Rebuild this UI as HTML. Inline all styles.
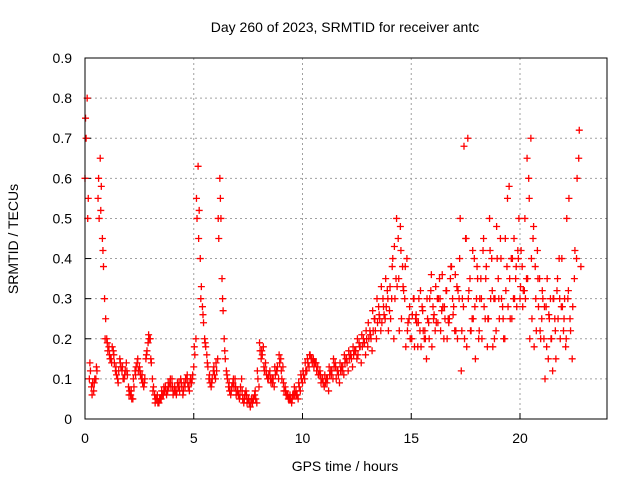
<!DOCTYPE html>
<html><head><meta charset="utf-8"><style>
html,body{margin:0;padding:0;background:#fff}
svg text{font-family:"Liberation Sans",sans-serif;font-size:14px;fill:#000}
</style></head><body>
<svg id="chart" width="640" height="480" viewBox="0 0 640 480" xmlns="http://www.w3.org/2000/svg">
<rect width="640" height="480" fill="#fff"/>
<text x="345" y="32" text-anchor="middle">Day 260 of 2023, SRMTID for receiver antc</text>
<g id="grid"></g>
<g id="ticks"></g>
<g id="marks"></g>
<rect x="85" y="58" width="522" height="361" fill="none" stroke="#000" stroke-width="1"/>
<text x="345" y="471" text-anchor="middle">GPS time / hours</text>
<text transform="translate(18,239) rotate(-90)" text-anchor="middle">SRMTID / TECUs</text>
</svg>
<script>
const xTicks=[0,5,10,15,20];
const yTicks=[0,0.1,0.2,0.3,0.4,0.5,0.6,0.7,0.8,0.9];
const yTickLabels=["0","0.1","0.2","0.3","0.4","0.5","0.6","0.7","0.8","0.9"];
const startTime=0, timeStep=0.1;
const mainValues=[0.6,0.8,0.1,0.08,0.07,0.1,0.55,0.65,0.45,0.3,0.2,0.18,0.15,0.17,0.12,0.1,0.15,0.12,0.1,0.14,0.08,0.06,0.05,0.12,0.14,0.13,0.1,0.08,0.15,0.19,0.2,0.1,0.06,0.05,0.04,0.05,0.06,0.08,0.07,0.09,0.1,0.07,0.06,0.08,0.1,0.06,0.08,0.11,0.07,0.09,0.13,0.2,0.63,0.4,0.28,0.2,0.16,0.1,0.08,0.12,0.1,0.15,0.6,0.35,0.2,0.12,0.08,0.06,0.09,0.1,0.07,0.05,0.1,0.04,0.07,0.05,0.03,0.04,0.06,0.04,0.08,0.15,0.18,0.14,0.1,0.12,0.1,0.08,0.12,0.1,0.15,0.13,0.08,0.06,0.05,0.04,0.06,0.07,0.05,0.07,0.09,0.1,0.12,0.13,0.15,0.15,0.14,0.13,0.12,0.1,0.08,0.1,0.07,0.12,0.1,0.14,0.12,0.09,0.13,0.11,0.15,0.12,0.16,0.13,0.17,0.15,0.19,0.14,0.2,0.16,0.18,0.22,0.17,0.25,0.2,0.28,0.22,0.3,0.25,0.32,0.27,0.3,0.2,0.35,0.45,0.48,0.38,0.3,0.4,0.25,0.2,0.3,0.25,0.18,0.22,0.28,0.2,0.15,0.24,0.32,0.28,0.22,0.3,0.35,0.27,0.2,0.32,0.25,0.35,0.3,0.22,0.33,0.3,0.12,0.28,0.45,0.7,0.35,0.25,0.4,0.3,0.2,0.35,0.42,0.25,0.18,0.5,0.4,0.3,0.22,0.35,0.45,0.28,0.2,0.38,0.58,0.4,0.3,0.35,0.42,0.3,0.38,0.32,0.35,0.6,0.7,0.45,0.38,0.42,0.35,0.25,0.2,0.28,0.15,0.3,0.12,0.25,0.32,0.4,0.28,0.22,0.18,0.3,0.25,0.15,0.35,0.4,0.65,0.38];
const secondStart=0.05;
const secondValues=[0.7,0.55,0.12,0.09,0.1,0.12,0.5,0.58,0.38,0.25,0.17,0.15,0.18,0.14,0.11,0.12,0.13,0.1,0.12,0.11,0.07,0.05,0.08,0.13,0.12,0.11,0.09,0.1,0.17,0.2,0.14,0.08,0.05,0.04,0.05,0.06,0.07,0.06,0.08,0.08,0.06,0.07,0.09,0.07,0.08,0.09,0.1,0.08,0.1,0.11,0.16,0.5,0.52,0.33,0.24,0.18,0.13,0.09,0.1,0.11,0.12,0.45,0.5,0.27,0.15,0.1,0.07,0.08,0.08,0.06,0.06,0.08,0.05,0.06,0.04,0.04,0.05,0.05,0.05,0.1,0.17,0.16,0.12,0.11,0.11,0.09,0.1,0.11,0.13,0.14,0.1,0.07,0.06,0.05,0.05,0.06,0.06,0.06,0.08,0.1,0.11,0.12,0.14,0.16,0.14,0.14,0.12,0.11,0.09,0.09,0.09,0.1,0.11,0.12,0.13,0.1,0.11,0.12,0.13,0.14,0.14,0.15,0.15,0.16,0.17,0.16,0.18,0.18,0.19,0.2,0.2,0.2,0.22,0.22,0.24,0.25,0.24,0.26,0.28,0.22,0.25,0.4,0.3,0.33,0.22,0.25,0.32,0.18,0.24,0.2,0.26,0.18,0.24,0.3,0.18,0.22,0.2,0.25,0.3,0.18,0.26,0.24,0.3,0.22,0.28,0.25,0.2,0.25,0.38,0.28,0.22,0.32,0.5,0.3,0.2,0.18,0.32,0.22,0.25,0.15,0.35,0.3,0.2,0.28,0.38,0.25,0.3,0.18,0.3,0.4,0.25,0.3,0.2,0.32,0.28,0.25,0.4,0.3,0.28,0.5,0.42,0.32,0.3,0.35,0.2,0.25,0.18,0.22,0.28,0.2,0.3,0.1,0.35,0.25,0.2,0.3,0.15,0.25,0.2,0.28,0.3,0.5,0.55];
const thirdStart=0.025;
const thirdValues=[0.75,0.5,0.14,0.06,0.09,0.13,0.6,0.52,0.42,0.2,0.19,0.16,0.14,0.16,0.13,0.09,0.14,0.13,0.11,0.12,0.06,0.07,0.1,0.11,0.15,0.12,0.11,0.09,0.16,0.21,0.15,0.07,0.04,0.06,0.05,0.07,0.08,0.07,0.09,0.1,0.08,0.08,0.07,0.09,0.09,0.07,0.1,0.09,0.09,0.1,0.18,0.55,0.45,0.3,0.26,0.19,0.14,0.11,0.09,0.13,0.14,0.5,0.55,0.3,0.17,0.11,0.09,0.07,0.1,0.08,0.07,0.06,0.07,0.05,0.06,0.05,0.04,0.05,0.07,0.12,0.19,0.17,0.13,0.12,0.1,0.1,0.09,0.13,0.12,0.16,0.12,0.09,0.07,0.06,0.06,0.05,0.08,0.06,0.09,0.11,0.12,0.14,0.15,0.16,0.15,0.13,0.14,0.11,0.11,0.1,0.11,0.09,0.13,0.11,0.15,0.13,0.12,0.14,0.12,0.16,0.15,0.17,0.16,0.18,0.17,0.2,0.18,0.21,0.19,0.22,0.24,0.21,0.27,0.25,0.3,0.26,0.33,0.28,0.35,0.3,0.33,0.38,0.43,0.5,0.35,0.42,0.33,0.38,0.22,0.28,0.2,0.3,0.26,0.24,0.32,0.27,0.22,0.3,0.2,0.36,0.25,0.33,0.24,0.3,0.36,0.28,0.32,0.24,0.38,0.26,0.36,0.2,0.4,0.22,0.68,0.45,0.3,0.22,0.42,0.28,0.38,0.22,0.3,0.45,0.35,0.25,0.42,0.32,0.2,0.48,0.3,0.4,0.25,0.45,0.55,0.35,0.25,0.45,0.38,0.4,0.33,0.28,0.5,0.65,0.55,0.4,0.48,0.3,0.35,0.22,0.32,0.28,0.18,0.26,0.2,0.3,0.22,0.35,0.3,0.4,0.25,0.2,0.32,0.22,0.28,0.42,0.6,0.72];
const X0=85,X1=607,Y0=419,Y1=58,TMAX=24,VMAX=0.9;
function xScale(t){return X0+(X1-X0)*t/TMAX;}
function yScale(v){return Y0-(Y0-Y1)*v/VMAX;}
const NS="http://www.w3.org/2000/svg";
function mk(tag,attrs,parent){const e=document.createElementNS(NS,tag);for(const k in attrs)e.setAttribute(k,attrs[k]);parent.appendChild(e);return e;}
const grid=document.getElementById('grid'),ticks=document.getElementById('ticks'),marks=document.getElementById('marks');
xTicks.forEach(t=>{const x=xScale(t);
 const g=mk('line',{x1:x,x2:x,y1:Y1,y2:Y0,stroke:'#a0a0a0','stroke-dasharray':'2,3','stroke-width':1},grid);
 
 
 const tk=mk('line',{x1:x,x2:x,y1:Y0,y2:Y0-6,stroke:'#000'},ticks);
 
 
 const tx=mk('text',{x:x,y:Y0+24,'text-anchor':'middle'},ticks);tx.textContent=String(t);
 
 
});
yTicks.forEach((v,i)=>{const y=yScale(v);
 if(i>0&&i<yTicks.length-1){const g=mk('line',{x1:X0,x2:X1,y1:y,y2:y,stroke:'#a0a0a0','stroke-dasharray':'2,3','stroke-width':1},grid);
 
 }
 const tk=mk('line',{x1:X0,x2:X0+6,y1:y,y2:y,stroke:'#000'},ticks);
 
 
 const tx=mk('text',{x:X0-13,y:y+5,'text-anchor':'end'},ticks);tx.textContent=yTickLabels[i];
 
 
});
function plus(t,v,color){const x=xScale(t),y=yScale(v);
 const p=mk('path',{d:`M${x-3.5},${y}h7M${x},${y-3.5}v7`,stroke:color,'stroke-width':1.3,fill:'none'},marks);
 
 
}
thirdValues.forEach((v,i)=>plus(thirdStart+i*timeStep,v,'#ff0000'));
secondValues.forEach((v,i)=>plus(secondStart+i*timeStep,v,'#ff0000'));
mainValues.forEach((v,i)=>plus(startTime+i*timeStep,v,'#ff0000'));
</script>
</body></html>
